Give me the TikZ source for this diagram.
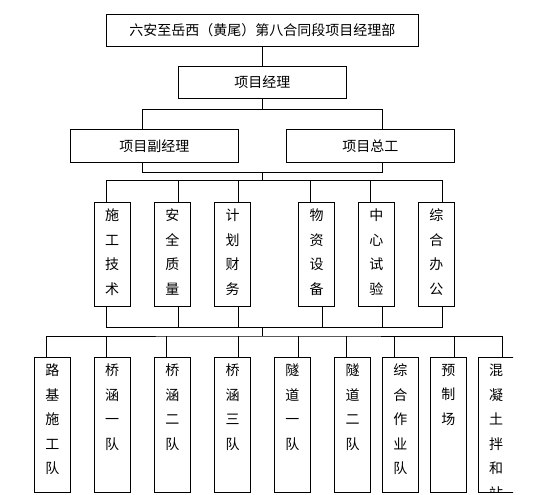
\documentclass[tikz,border=0pt]{standalone}
\usepackage{fontspec}
\setmainfont{Noto Sans CJK SC}
\newcommand\vcol[2]{\parbox[c][#1][t]{36pt}{\vspace*{7pt}\centering #2}}
\begin{document}
\begin{tikzpicture}[x=1pt,y=-1pt,
  every node/.style={font=\fontsize{14pt}{24.5pt}\selectfont},
  hbox/.style={draw, line width=0.8pt, inner sep=0pt, minimum height=31.5pt},
  vbox/.style={draw, line width=0.8pt, inner sep=0pt},
  conn/.style={line width=0.8pt}]
\useasboundingbox[fill=white] (0,0) rectangle (533,495);

% top levels
\node[hbox, minimum width=312pt] (top) at (262.4,30.25) {六安至岳西（黄尾）第八合同段项目经理部};
\node[hbox, minimum width=168pt] (pm) at (262.45,82.65) {项目经理};
\node[hbox, minimum width=168pt, minimum height=32.5pt] (vp) at (154.35,145.75) {项目副经理};
\node[hbox, minimum width=168pt, minimum height=32.5pt] (cg) at (370.35,145.75) {项目总工};

% departments
\node[vbox] (d1) at (112.2,254.25) {\vcol{104.5pt}{施\\工\\技\\术}};
\node[vbox] (d2) at (172.3,254.25) {\vcol{104.5pt}{安\\全\\质\\量}};
\node[vbox] (d3) at (232.5,254.25) {\vcol{104.5pt}{计\\划\\财\\务}};
\node[vbox] (d4) at (316.6,254.25) {\vcol{104.5pt}{物\\资\\设\\备}};
\node[vbox] (d5) at (376.3,254.25) {\vcol{104.5pt}{中\\心\\试\\验}};
\node[vbox] (d6) at (436.45,254.25) {\vcol{104.5pt}{综\\合\\办\\公}};

% teams
\node[vbox] (t1) at (52.35,424.5) {\vcol{135pt}{路\\基\\施\\工\\队}};
\node[vbox] (t2) at (112.2,424.5) {\vcol{135pt}{桥\\涵\\一\\队}};
\node[vbox] (t3) at (172.3,424.5) {\vcol{135pt}{桥\\涵\\二\\队}};
\node[vbox] (t4) at (232.5,424.5) {\vcol{135pt}{桥\\涵\\三\\队}};
\node[vbox] (t5) at (292.3,424.5) {\vcol{135pt}{隧\\道\\一\\队}};
\node[vbox] (t6) at (352.5,424.5) {\vcol{135pt}{隧\\道\\二\\队}};
\node[vbox] (t7) at (400.4,424.5) {\vcol{135pt}{综\\合\\作\\业\\队}};
\node[vbox] (t8) at (448.35,424.5) {\vcol{135pt}{预\\制\\场}};
\begin{scope}
\clip (0,0) rectangle (513,492.6);
\node[vbox] (t9) at (496.2,424.5) {\vcol{135pt}{混\\凝\\土\\拌\\和\\站}};
\end{scope}

% junctions
\coordinate (j1) at (262.4,109.5);
\coordinate (j2) at (262.4,172.5);
\coordinate (j3) at (262.4,180.5);
\coordinate (j4) at (262.4,327.5);
\coordinate (j5) at (262.4,336);

% connectors
\draw[conn] (top.south) -- (pm.north);
\draw[conn] (pm.south) -- (j1);
\draw[conn] ([xshift=-11.95pt]vp.north) |- (j1) -| ([xshift=12.05pt]cg.north);
\draw[conn] ([xshift=-11.95pt]vp.south) |- (j2) -| ([xshift=12.05pt]cg.south);
\draw[conn] (j2) -- (j3);

\draw[conn] ([xshift=-5.8pt]d1.north) |- (j3) -| ([xshift=5.75pt]d6.north);
\draw[conn] ([xshift=6.2pt]d2.north) -- ++(0,-21.5);
\draw[conn] ([xshift=5.8pt]d3.north) -- ++(0,-21.5);
\draw[conn] ([xshift=-6.3pt]d4.north) -- ++(0,-21.5);
\draw[conn] ([xshift=-6.1pt]d5.north) -- ++(0,-21.5);

\draw[conn] ([xshift=-5.8pt]d1.south) |- (j4) -| ([xshift=5.75pt]d6.south);
\draw[conn] ([xshift=6.2pt]d2.south) -- ++(0,21);
\draw[conn] ([xshift=5.8pt]d3.south) -- ++(0,21);
\draw[conn] ([xshift=5.6pt]d4.south) -- ++(0,21);
\draw[conn] ([xshift=6.1pt]d5.south) -- ++(0,21);
\draw[conn] (j4) -- (j5);

\draw[conn] ([xshift=-6.1pt]t1.north) |- (j5) -| ([xshift=6.2pt]t9.north);
\draw[conn] ([xshift=-5.8pt]t2.north) -- ++(0,-21);
\draw[conn] ([xshift=-6.1pt]t3.north) -- ++(0,-21);
\draw[conn] ([xshift=5.8pt]t4.north) -- ++(0,-21);
\draw[conn] ([xshift=6.1pt]t5.north) -- ++(0,-21);
\draw[conn] ([xshift=-6.1pt]t6.north) -- ++(0,-21);
\draw[conn] ([xshift=-6.1pt]t7.north) -- ++(0,-21);
\draw[conn] ([xshift=6.15pt]t8.north) -- ++(0,-21);
\end{tikzpicture}
\end{document}
